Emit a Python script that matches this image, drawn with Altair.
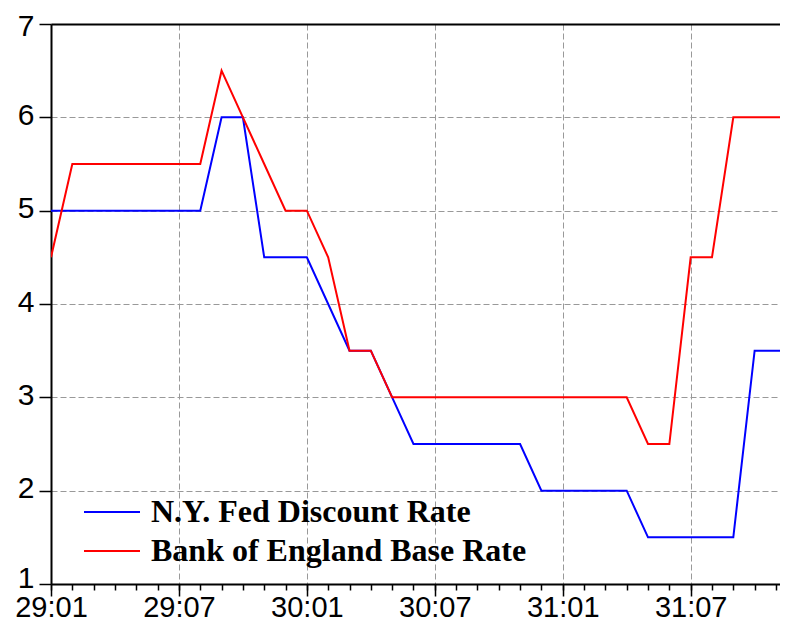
import json
import altair as alt
import pandas as pd

# Monthly observations 1929:01 - 1931:12
months = [f"{y}:{m:02d}" for y in (29, 30, 31) for m in range(1, 13)]

ny_fed = [5.0, 5.0, 5.0, 5.0, 5.0, 5.0, 5.0, 5.0, 6.0, 6.0, 4.5, 4.5,
          4.5, 4.0, 3.5, 3.5, 3.0, 2.5, 2.5, 2.5, 2.5, 2.5, 2.5, 2.0,
          2.0, 2.0, 2.0, 2.0, 1.5, 1.5, 1.5, 1.5, 1.5, 3.5, 3.5, 3.5]

boe = [4.5, 5.5, 5.5, 5.5, 5.5, 5.5, 5.5, 5.5, 6.5, 6.0, 5.5, 5.0,
       5.0, 4.5, 3.5, 3.5, 3.0, 3.0, 3.0, 3.0, 3.0, 3.0, 3.0, 3.0,
       3.0, 3.0, 3.0, 3.0, 2.5, 2.5, 4.5, 4.5, 6.0, 6.0, 6.0, 6.0]

series_names = ["N.Y. Fed Discount Rate", "Bank of England Base Rate"]
series_colors = ["#0000ff", "#ff0000"]

tick_labels = ["29:01", "29:07", "30:01", "30:07", "31:01", "31:07"]
y_ticks = [1, 2, 3, 4, 5, 6, 7]

n = len(months)
df = pd.DataFrame({
    "idx": list(range(n)) * 2,
    "month": months * 2,
    "series": [series_names[0]] * n + [series_names[1]] * n,
    "rate": ny_fed + boe,
})

major_vals = [months.index(t) for t in tick_labels]
X_MAX = 34.19  # visible window ends before 31:12 (series runs off the right edge)

x_scale = alt.Scale(domain=[0, X_MAX], nice=False, zero=False)

y_label_offset = {
    "condition": [
        {"test": "datum.value === 7", "value": 2.5},
        {"test": "datum.value === 1", "value": -6},
    ],
    "value": -2,
}

y_enc = alt.Y(
    "rate:Q",
    scale=alt.Scale(domain=[1, 7], nice=False, zero=False),
    axis=alt.Axis(
        values=y_ticks, title=None, tickSize=12, tickColor="black", tickWidth=1.5,
        labelFontSize=30, labelFont="Liberation Sans", labelColor="black",
        labelPadding=5, labelOffset=y_label_offset,
        grid=True, gridDash=[6, 3], gridColor="#999999", gridWidth=1,
        domainColor="black", domainWidth=2,
    ),
)

label_expr = json.dumps(months) + "[datum.value]"

lines = alt.Chart(df).mark_line(strokeWidth=2, clip=True).encode(
    x=alt.X(
        "idx:Q", scale=x_scale,
        axis=alt.Axis(
            orient="bottom", values=major_vals, labelExpr=label_expr, title=None,
            tickSize=12, tickColor="black", tickWidth=1.5,
            labelFontSize=29, labelFont="Liberation Sans", labelColor="black",
            labelPadding=-3, labelFlush=False, labelOverlap=False,
            grid=True, gridDash=[6, 3], gridColor="#999999", gridWidth=1,
            domainColor="black", domainWidth=2,
        ),
    ),
    y=y_enc,
    color=alt.Color(
        "series:N",
        scale=alt.Scale(domain=series_names, range=series_colors),
        sort=series_names,
        legend=alt.Legend(
            title=None, orient="none", legendX=32, legendY=473, direction="vertical",
            symbolType="stroke", symbolSize=3136, symbolStrokeWidth=2,
            labelFont="Liberation Serif", labelFontWeight="bold", labelFontSize=32,
            labelColor="black", labelLimit=1000, labelOffset=10,
            clipHeight=30, rowPadding=7, padding=0,
        ),
    ),
    order=alt.Order("idx:Q"),
)

minor = alt.Chart(df).mark_line(opacity=0).encode(
    x=alt.X(
        "idx:Q", scale=x_scale,
        axis=alt.Axis(
            orient="bottom", values=list(range(n)), labels=False, title=None,
            tickSize=6, tickColor="black", tickWidth=1.5, domain=False, grid=False,
        ),
    ),
    y=y_enc,
    detail="series:N",
)

top = alt.Chart(df).mark_line(opacity=0).encode(
    x=alt.X(
        "idx:Q", scale=x_scale,
        axis=alt.Axis(
            orient="top", labels=False, ticks=False, title=None, grid=False,
            domain=True, domainColor="black", domainWidth=2,
        ),
    ),
    y=y_enc,
    detail="series:N",
)

chart = alt.layer(lines, minor, top).resolve_axis(x="independent").properties(
    width=729,
    height=560,
    autosize=alt.AutoSizeParams(type="none"),
    padding={"left": 43, "top": 16, "right": 0, "bottom": 38},
    background="white",
).configure_view(strokeWidth=0)

chart.save("out.html", embed_options={"renderer": "svg", "actions": False})
